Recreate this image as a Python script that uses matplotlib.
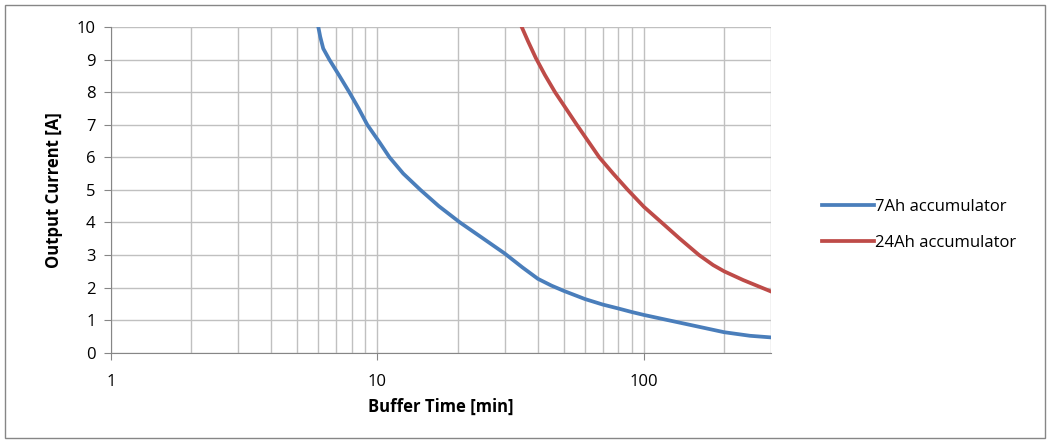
import matplotlib.pyplot as plt
from matplotlib.patches import Rectangle

plt.rcParams['font.family'] = ['Open Sans', 'DejaVu Sans']

# buffer time [min] vs output current [A]
t_7ah = [6.0, 6.1, 6.26, 6.6, 7.2, 7.84, 8.5, 9.16, 10.2, 11.1, 12.5, 14.5, 17, 20.4,
         25, 30, 35, 40, 45, 50, 60, 70, 80, 90, 100, 120, 150, 200, 250, 300]
i_7ah = [10.0, 9.7, 9.34, 9.0, 8.5, 8.0, 7.5, 7.0, 6.45, 6.0, 5.5, 5.0, 4.5, 4.0,
         3.5, 3.05, 2.62, 2.27, 2.06, 1.9, 1.65, 1.48, 1.36, 1.25, 1.16, 1.02, 0.85,
         0.63, 0.52, 0.47]

t_24ah = [34.8, 36.8, 39.3, 42.5, 46.4, 50.5, 56, 68, 76.7, 87, 100, 116.5, 136,
          161, 182, 200, 236, 300]
i_24ah = [10.0, 9.55, 9.05, 8.53, 8.0, 7.55, 7.0, 6.0, 5.5, 5.0, 4.48, 4.0, 3.51,
          3.0, 2.69, 2.5, 2.23, 1.88]

y_ticks = list(range(0, 11))
x_ticks = [1, 10, 100]
x_ticklabels = ['1', '10', '100']

fig = plt.figure(figsize=(10.5, 4.43), dpi=100)
ax = fig.add_axes([0.1057, 0.2038, 0.6286, 0.7352])

ax.plot(t_7ah, i_7ah, color='#4a7ebb', lw=2.7, label='7Ah accumulator')
ax.plot(t_24ah, i_24ah, color='#be4b48', lw=2.7, label='24Ah accumulator')

ax.set_xscale('log')
ax.set_xlim(1, 300)
ax.set_ylim(0, 10)
ax.set_xticks(x_ticks)
ax.set_xticklabels(x_ticklabels)
ax.set_yticks(y_ticks)
ax.tick_params(axis='x', which='minor', length=0)
ax.tick_params(which='major', length=5, color='#868686', labelsize=12, pad=6)
ax.tick_params(axis='x', pad=10)

ax.grid(True, which='major', color='#c0c0c0', lw=1.0)
ax.grid(True, which='minor', axis='x', color='#c0c0c0', lw=1.0)
ax.set_axisbelow(True)

for side in ['top', 'right']:
    ax.spines[side].set_visible(False)
for side in ['left', 'bottom']:
    ax.spines[side].set_color('#868686')

ax.set_xlabel('Buffer Time [min]', fontsize=12, fontweight='bold', labelpad=6)
ax.set_ylabel('Output Current [A]', fontsize=12, fontweight='bold', labelpad=10)

fig.legend(loc='center left', bbox_to_anchor=(0.783, 0.492), frameon=False,
           fontsize=12, handlelength=3.1, handletextpad=0.1, labelspacing=1.2,
           borderpad=0, borderaxespad=0)

fig.patches.append(Rectangle((5 / 1050, 5 / 443), 1 - 10 / 1050, 1 - 10 / 443,
                             transform=fig.transFigure, fill=False,
                             edgecolor='#868686', lw=1.0))

plt.savefig('out.png', dpi=100)
